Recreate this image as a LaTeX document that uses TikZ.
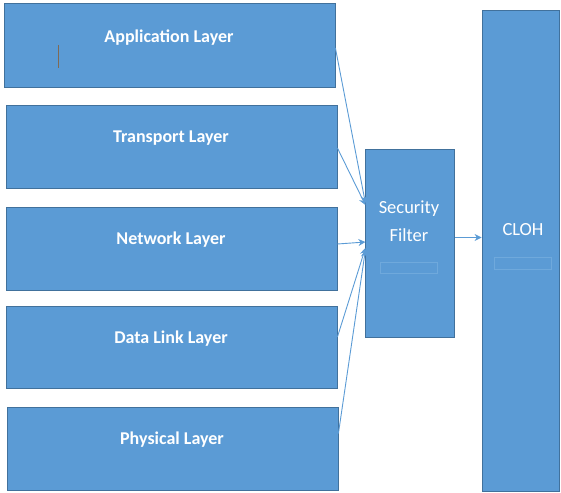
\documentclass[tikz,border=0pt]{standalone}
\usepackage{fontspec}
\setmainfont{Carlito}
\usetikzlibrary{arrows.meta}
\definecolor{boxblue}{HTML}{5B9BD5}
\definecolor{boxline}{HTML}{41719C}
\definecolor{ghostline}{HTML}{6FA9DC}
\definecolor{cursorline}{HTML}{7F6A55}

\begin{document}
\begin{tikzpicture}[->, >={Stealth[length=7pt, width=7pt]}, x=1pt, y=-1pt]
            \tikzset{
                layer/.style={
                        rectangle, draw=boxline, fill=boxblue, line width=0.8pt,
                        minimum width=331pt, minimum height=83pt, inner sep=0pt
                    },
                layertext/.style={
                        text=white, inner sep=0pt,
                        font=\fontsize{18}{21}\selectfont\bfseries
                    },
                tallbox/.style={
                        rectangle, draw=boxline, fill=boxblue, line width=0.8pt, inner sep=0pt
                    },
                boxtext/.style={
                        text=white, inner sep=0pt, align=center,
                        font=\fontsize{18.5}{28}\selectfont
                    },
                ghost/.style={
                        rectangle, draw=ghostline, line width=0.6pt, inner sep=0pt
                    },
                feed/.style={
                        ->, draw=boxblue, line width=0.9pt
                    }
            }
            \useasboundingbox (0,0) rectangle (561,492);

            % Layer stack
            \node[layer, minimum height=84pt] (app) at (169.5,45) {};
            \node[layer] (trans) at (171.5,146.5) {};
            \node[layer] (net) at (171.5,248.5) {};
            \node[layer, minimum height=82pt] (dl) at (171.5,347) {};
            \node[layer] (phys) at (172.5,448.5) {};

            \node[layertext] (apptext) at (169,38) {Application Layer};
            \node[layertext] (transtext) at (171,138) {Transport Layer};
            \node[layertext] (nettext) at (171,240) {Network Layer};
            \node[layertext] (dltext) at (171,339) {Data Link Layer};
            \node[layertext] (phystext) at (172,440) {Physical Layer};

            % stray cursor mark
            \draw[-, cursorline, line width=0.9pt] (58,45) -- (58,68);

            % Filter and CLOH
            \node[tallbox, minimum width=89pt, minimum height=188pt] (filter) at (410.3,243) {};
            \node[tallbox, minimum width=77pt, minimum height=481pt] (cloh) at (520.5,250.5) {};

            \node[boxtext] (filtertext) at (409,221) {Security\\Filter};
            \node[boxtext] (clohtext) at (523,230) {CLOH};

            \node[ghost, minimum width=57pt, minimum height=11pt] (filterghost) at (408.5,267.5) {};
            \node[ghost, minimum width=57pt, minimum height=12pt] (clohghost) at (522.5,263) {};

            % Feeds into the filter
            \draw[feed] ([yshift=-3pt]app.east) -- ([yshift=40pt]filter.west);
            \draw[feed] ([yshift=-1.5pt]trans.east) -- ([yshift=38pt]filter.west);
            \draw[feed] ([yshift=4.5pt]net.east) -- ([yshift=1pt]filter.west);
            \draw[feed] ([yshift=10pt]dl.east) -- ([yshift=-5pt]filter.west);
            \draw[feed] ([yshift=15pt]phys.east) -- ([yshift=-7pt]filter.west);

            % Filter to CLOH
            \coordinate (fout) at ([yshift=5.5pt]filter.east);
            \draw[feed] (fout) -- (fout -| cloh.west);
        \end{tikzpicture}
\end{document}
